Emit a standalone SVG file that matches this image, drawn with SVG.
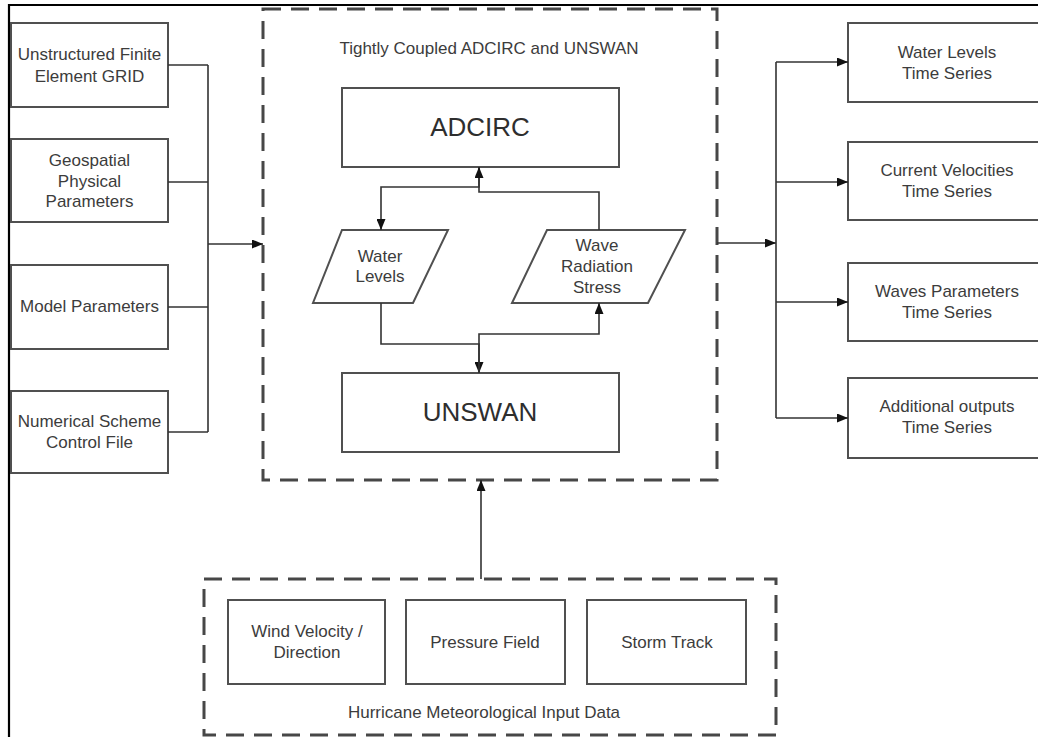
<svg xmlns="http://www.w3.org/2000/svg" width="1038" height="737" viewBox="0 0 1038 737">
  <style>
    .box { fill: #ffffff; stroke: #505050; stroke-width: 2; }
    .dash { fill: none; stroke: #474747; stroke-width: 3; stroke-dasharray: 18 10; }
    .wire { fill: none; stroke: #333333; stroke-width: 1.6; }
    .lbl { font-family: "Liberation Sans", Arial, sans-serif; font-size: 17px; fill: #3c3c3c; text-anchor: middle; dominant-baseline: central; }
    .big { font-size: 26px; fill: #2e2e2e; }
    .frame { stroke: #000000; stroke-width: 2.2; fill: none; }
  </style>
  <defs>
    <marker id="arrow" markerUnits="userSpaceOnUse" markerWidth="11" markerHeight="9" refX="11" refY="4.5" orient="auto">
      <path d="M0,0 L11,4.5 L0,9 z" fill="#111111"/>
    </marker>
  </defs>

  <rect width="1038" height="737" fill="#ffffff"/>

  <!-- outer frame (top and left edges) -->
  <path class="frame" d="M9,737 V5 H1038"/>

  <!-- group containers -->
  <g id="coupled-model">
    <rect class="dash" x="263" y="9" width="454" height="471"/>
    <text class="lbl" x="489" y="48">Tightly Coupled ADCIRC and UNSWAN</text>
  </g>
  <g id="hurricane-input">
    <rect class="dash" x="204" y="579" width="572" height="156"/>
    <text class="lbl" x="484" y="712">Hurricane Meteorological Input Data</text>
  </g>

  <!-- left inputs -->
  <g id="grid">
    <rect class="box" x="11" y="23" width="157" height="84"/>
    <text class="lbl" x="89.5" y="54">Unstructured Finite</text>
    <text class="lbl" x="89.5" y="76">Element GRID</text>
  </g>
  <g id="geospatial">
    <rect class="box" x="11" y="139" width="157" height="83"/>
    <text class="lbl" x="89.5" y="160">Geospatial</text>
    <text class="lbl" x="89.5" y="181">Physical</text>
    <text class="lbl" x="89.5" y="201">Parameters</text>
  </g>
  <g id="model-parameters">
    <rect class="box" x="11" y="265" width="157" height="84"/>
    <text class="lbl" x="89.5" y="306">Model Parameters</text>
  </g>
  <g id="numerical-scheme">
    <rect class="box" x="11" y="391" width="157" height="82"/>
    <text class="lbl" x="89.5" y="421">Numerical Scheme</text>
    <text class="lbl" x="89.5" y="442">Control File</text>
  </g>

  <!-- coupled models -->
  <g id="adcirc">
    <rect class="box" x="342" y="88" width="277" height="79"/>
    <text class="lbl big" x="480" y="127">ADCIRC</text>
  </g>
  <g id="unswan">
    <rect class="box" x="342" y="373" width="277" height="79"/>
    <text class="lbl big" x="480" y="412">UNSWAN</text>
  </g>
  <g id="water-levels-exchange">
    <polygon class="box" points="342,230 448,230 413,303 313,303"/>
    <text class="lbl" x="380" y="256">Water</text>
    <text class="lbl" x="380" y="276">Levels</text>
  </g>
  <g id="wave-stress-exchange">
    <polygon class="box" points="547,230 685,230 648,303 512,303"/>
    <text class="lbl" x="597" y="245">Wave</text>
    <text class="lbl" x="597" y="266">Radiation</text>
    <text class="lbl" x="597" y="287">Stress</text>
  </g>

  <!-- right outputs -->
  <g id="out-water-levels">
    <rect class="box" x="848" y="23" width="200" height="79"/>
    <text class="lbl" x="947" y="52">Water Levels</text>
    <text class="lbl" x="947" y="73">Time Series</text>
  </g>
  <g id="out-currents">
    <rect class="box" x="848" y="142" width="200" height="78"/>
    <text class="lbl" x="947" y="170">Current Velocities</text>
    <text class="lbl" x="947" y="191">Time Series</text>
  </g>
  <g id="out-waves">
    <rect class="box" x="848" y="263" width="200" height="78"/>
    <text class="lbl" x="947" y="291">Waves Parameters</text>
    <text class="lbl" x="947" y="312">Time Series</text>
  </g>
  <g id="out-additional">
    <rect class="box" x="848" y="378" width="200" height="80"/>
    <text class="lbl" x="947" y="406">Additional outputs</text>
    <text class="lbl" x="947" y="427">Time Series</text>
  </g>

  <!-- meteorological inputs -->
  <g id="wind">
    <rect class="box" x="228" y="600" width="157" height="84"/>
    <text class="lbl" x="307" y="631">Wind Velocity /</text>
    <text class="lbl" x="307" y="652">Direction</text>
  </g>
  <g id="pressure">
    <rect class="box" x="406" y="600" width="159" height="84"/>
    <text class="lbl" x="485" y="642">Pressure Field</text>
  </g>
  <g id="storm-track">
    <rect class="box" x="587" y="600" width="159" height="84"/>
    <text class="lbl" x="667" y="642">Storm Track</text>
  </g>

  <!-- connectors -->
  <g id="connectors">
    <path class="wire" d="M168,65 H208 M168,182 H208 M168,307 H208 M168,432 H208 M208,65 V432"/>
    <path class="wire" d="M208,244 H263" marker-end="url(#arrow)"/>

    <path class="wire" d="M717,243 H776" marker-end="url(#arrow)"/>
    <path class="wire" d="M776,62 V418"/>
    <path class="wire" d="M776,62 H848" marker-end="url(#arrow)"/>
    <path class="wire" d="M776,182 H848" marker-end="url(#arrow)"/>
    <path class="wire" d="M776,302 H848" marker-end="url(#arrow)"/>
    <path class="wire" d="M776,418 H848" marker-end="url(#arrow)"/>

    <path class="wire" d="M479,167 V187 H381 V230" marker-end="url(#arrow)"/>
    <path class="wire" d="M599,230 V192 H479 V167" marker-end="url(#arrow)"/>
    <path class="wire" d="M381,303 V344 H479 V373" marker-end="url(#arrow)"/>
    <path class="wire" d="M479,373 V334 H599 V303" marker-end="url(#arrow)"/>

    <path class="wire" d="M481,579 V480" marker-end="url(#arrow)"/>
  </g>
</svg>
